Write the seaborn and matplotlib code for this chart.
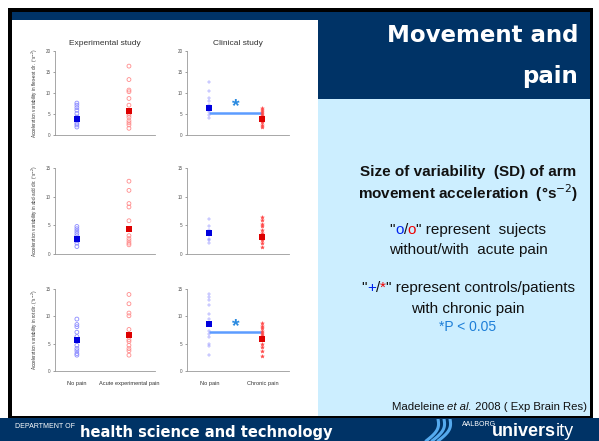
import numpy as np
import pandas as pd
import seaborn as sns
import matplotlib.pyplot as plt
from matplotlib.patches import Rectangle
from matplotlib.offsetbox import TextArea, HPacker, AnnotationBbox

# values (acceleration variability, deg/s^2)
exp_groups = ['No pain', 'Acute experimental pain']
clin_groups = ['No pain', 'Chronic pain']

exp_flex_no = [7.6, 7.1, 6.5, 5.9, 5.1, 4.3, 3.8, 3.5, 2.8, 2.4, 1.9]
exp_flex_pain = [16.4, 13.2, 10.7, 10.3, 8.7, 7.1, 5.2, 4.7, 4.2, 3.4, 2.9, 2.4, 1.6]
clin_flex_ctrl = [12.6, 10.5, 8.7, 8.1, 7.1, 6.0, 5.5, 4.7, 4.0]
clin_flex_chr = [6.5, 6.0, 5.5, 5.0, 4.5, 4.2, 3.8, 3.5, 3.0, 2.5, 2.0]
exp_abd_no = [4.8, 4.4, 4.0, 3.6, 3.2, 2.3, 1.9, 1.3]
exp_abd_pain = [12.7, 11.1, 8.8, 8.2, 5.8, 3.2, 2.7, 2.3, 1.9, 1.6]
clin_abd_ctrl = [6.1, 4.8, 4.2, 3.3, 2.7, 2.5, 1.9]
clin_abd_chr = [6.4, 6.0, 5.3, 4.8, 4.2, 3.7, 3.2, 2.5, 1.9, 1.3]
exp_rot_no = [9.5, 8.5, 8.1, 7.1, 6.3, 4.7, 4.1, 3.7, 3.2, 2.9]
exp_rot_pain = [14.0, 12.3, 10.6, 10.1, 7.6, 5.7, 5.4, 4.7, 4.1, 3.7, 2.9]
clin_rot_ctrl = [14.1, 13.6, 13.0, 12.1, 10.4, 9.6, 7.4, 6.8, 6.3, 5.0, 4.5, 3.0]
clin_rot_chr = [8.7, 8.3, 7.9, 7.4, 6.9, 6.5, 5.0, 4.4, 3.6, 2.8]

exp_means = [[3.7, 5.8], [2.6, 4.4], [5.6, 6.6]]
clin_means = [[6.4, 3.9], [3.6, 2.9], [8.6, 5.8]]
sig_level = [5.3, None, 7.1]
ymax = [20, 15, 15]
ylabels = ['Acceleration variability in flex-ext dir. (°s$^{-2}$)',
           'Acceleration variability in abd-add dir. (°s$^{-2}$)',
           'Acceleration variability in rot dir. (°s$^{-2}$)']

exp_data = [(exp_flex_no, exp_flex_pain), (exp_abd_no, exp_abd_pain), (exp_rot_no, exp_rot_pain)]
clin_data = [(clin_flex_ctrl, clin_flex_chr), (clin_abd_ctrl, clin_abd_chr), (clin_rot_ctrl, clin_rot_chr)]

W, H = 599, 441
NAVY = '#003366'
LBLUE = '#cceeff'

sns.set_style('white')
plt.rcParams['font.family'] = ['Liberation Sans', 'DejaVu Sans']
fig = plt.figure(figsize=(W / 100, H / 100), dpi=100)


def rect(x0, y0, x1, y1, color):
    fig.patches.append(Rectangle((x0 / W, 1 - y1 / H), (x1 - x0) / W, (y1 - y0) / H,
                                 transform=fig.transFigure, color=color, lw=0, zorder=-10))


def px_axes(left, top, right, bottom):
    return fig.add_axes([left / W, 1 - bottom / H, (right - left) / W, (bottom - top) / H])


# slide decoration
rect(8, 8, 593, 420, 'black')
rect(12, 12, 590, 416, 'white')
rect(12, 12, 590, 20, NAVY)
rect(318, 12, 590, 99, NAVY)
rect(318, 99, 590, 416, LBLUE)
rect(0, 418, 599, 441, NAVY)

rows = [(51, 135), (168, 254), (289, 371)]
cols = [(55, 155), (187, 289)]


def draw(ax, groups, pair, means, markers, colors, edge_only):
    for g, vals, c, m in zip(groups, pair, colors, markers):
        df = pd.DataFrame({'group': g, 'value': vals})
        n0 = len(ax.collections)
        sns.stripplot(data=df, x='group', y='value', order=groups, jitter=False,
                      color=c, marker=m, size=2.8, linewidth=0.6, ax=ax)
        for coll in ax.collections[n0:]:
            coll.set_edgecolor(c)
            if edge_only:
                coll.set_facecolor('none')
            else:
                coll.set_linewidth(0.3)
    mdf = pd.DataFrame({'group': groups, 'value': means})
    sns.stripplot(data=mdf, x='group', y='value', order=groups, hue='group',
                  palette=['#0000dd', '#dd0000'], marker='s', size=3.8,
                  jitter=False, linewidth=0, legend=False, ax=ax)


for r, (top, bottom) in enumerate(rows):
    for c, (left, right) in enumerate(cols):
        ax = px_axes(left, top, right, bottom)
        ax.patch.set_alpha(0)
        if c == 0:
            draw(ax, exp_groups, exp_data[r], exp_means[r], ['o', 'o'],
                 ['#8a8aff', '#ff8c8c'], True)
            groups = exp_groups
        else:
            draw(ax, clin_groups, clin_data[r], clin_means[r], ['+', '*'],
                 ['#8080ff', '#ff4848'], False)
            groups = clin_groups
            if sig_level[r] is not None:
                ax.hlines(sig_level[r], 0, 1, color='#5c9cff', lw=1.8, zorder=1)
                ax.text(0.5, sig_level[r] - 0.6, '*', color='#2a8ae0', ha='center',
                        va='bottom', fontsize=14, fontweight='bold')
        ax.set_xlim(-0.42, 1.5)
        ax.set_ylim(0, ymax[r])
        ax.set_yticks(np.arange(0, ymax[r] + 1, 5))
        ax.tick_params(axis='y', labelsize=3.3, length=1.5, width=0.4, pad=1.5,
                       colors='#555555', left=True)
        ax.tick_params(axis='x', length=0, labelsize=4.1, pad=7, colors='#333333')
        for s in ['top', 'right']:
            ax.spines[s].set_visible(False)
        for s in ['left', 'bottom']:
            ax.spines[s].set_color('#999999')
            ax.spines[s].set_linewidth(0.6)
        ax.set_xlabel('')
        if c == 0:
            ax.set_ylabel(ylabels[r], fontsize=3.3, labelpad=4, color='#333333')
        else:
            ax.set_ylabel('')
        if r < 2:
            ax.set_xticklabels([])
        else:
            ax.set_xticks([0, 1], groups)
        if r == 0:
            ax.set_title(['Experimental study', 'Clinical study'][c], fontsize=6,
                         pad=4, color='#333333')

# right panel text
fig.text(578 / W, 1 - 36 / H, 'Movement and', ha='right', va='center', color='white',
         fontsize=16.5, fontweight='bold', family='DejaVu Sans')
fig.text(578 / W, 1 - 76 / H, 'pain', ha='right', va='center', color='white',
         fontsize=16.5, fontweight='bold', family='DejaVu Sans')

fig.text(468 / W, 1 - 172 / H, 'Size of variability  (SD) of arm', ha='center', va='center',
         fontsize=11, fontweight='bold', color='#111111')
fig.text(468 / W, 1 - 193 / H, 'movement acceleration  (°s$^{-2}$)', ha='center', va='center',
         fontsize=11, fontweight='bold', color='#111111')


def multi(x, y, parts, size, ha=0.5):
    boxes = [TextArea(t, textprops=dict(color=col, fontsize=size, fontstyle=st, fontweight=wt))
             for t, col, st, wt in parts]
    pack = HPacker(children=boxes, pad=0, sep=0)
    ab = AnnotationBbox(pack, (x / W, 1 - y / H), xycoords='figure fraction',
                        box_alignment=(ha, 0.5), frameon=False, pad=0)
    fig.add_artist(ab)


K = '#111111'
multi(468, 230, [('"', K, 'normal', 'normal'), ('o', '#0022ee', 'normal', 'normal'),
                 ('/', K, 'normal', 'normal'), ('o', '#ee0000', 'normal', 'normal'),
                 ('" represent  sujects', K, 'normal', 'normal')], 11)
fig.text(468 / W, 1 - 250 / H, 'without/with  acute pain', ha='center', va='center',
         fontsize=11, color=K)
multi(468, 288, [('"', K, 'normal', 'normal'), ('+', '#0022ee', 'normal', 'normal'),
                 ('/', K, 'normal', 'normal'), ('*', '#ee0000', 'normal', 'normal'),
                 ('" represent controls/patients', K, 'normal', 'normal')], 11)
fig.text(468 / W, 1 - 309 / H, 'with chronic pain', ha='center', va='center',
         fontsize=11, color=K)
fig.text(468 / W, 1 - 327 / H, '*P < 0.05', ha='center', va='center',
         fontsize=10, color='#1e7fd8')
multi(587, 407, [('Madeleine ', K, 'normal', 'normal'), ('et al.', K, 'italic', 'normal'),
                 (' 2008 ( Exp Brain Res)', K, 'normal', 'normal')], 8.2, ha=1.0)

# footer
fig.text(15 / W, 1 - 426 / H, 'DEPARTMENT OF', color='white', fontsize=5, va='center')
fig.text(80 / W, 1 - 432 / H, 'health science and technology', color='white', fontsize=10.5,
         fontweight='bold', va='center', family='DejaVu Sans')
fig.text(462 / W, 1 - 425 / H, 'AALBORG', color='white', fontsize=5, va='center')
multi(533, 432, [('univers', 'white', 'normal', 'bold'), ('ity', 'white', 'normal', 'normal')], 13)

logo = px_axes(420, 419, 460, 441)
t = np.linspace(0, 1, 30)
for k in range(3):
    logo.plot(6 + 12 * t + 6 * k + 5 * np.sin(np.pi * t), 22 * t, color='#55aaee', lw=2.2)
logo.set_xlim(0, 40)
logo.set_ylim(0, 22)
logo.axis('off')

fig.savefig('out.png', dpi=100)
